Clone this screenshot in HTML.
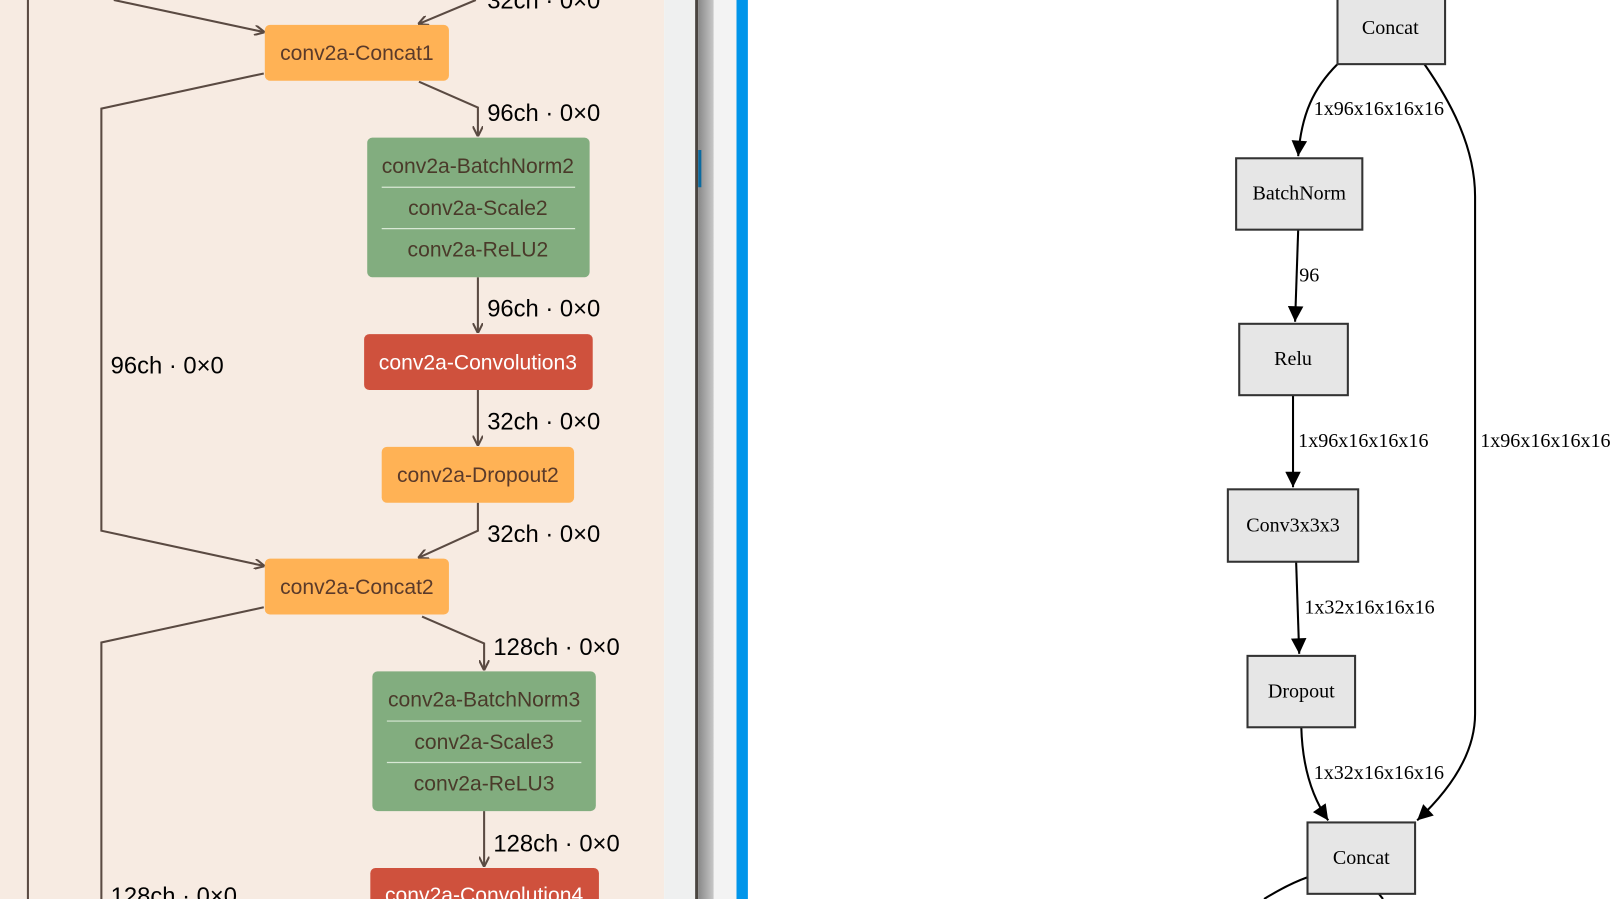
<!DOCTYPE html>
<html><head><meta charset="utf-8"><style>html,body{margin:0;padding:0;background:#fff;overflow:hidden}svg{display:block}</style></head>
<body>
<svg width="1623" height="899" viewBox="0 0 1569 869" preserveAspectRatio="none" xmlns="http://www.w3.org/2000/svg">
<defs>
<marker id="la" viewBox="0 0 10 10" refX="9" refY="5" markerWidth="10" markerHeight="10" markerUnits="userSpaceOnUse" orient="auto"><path d="M0,0 L10,5 L0,10" fill="none" stroke="#5a4a42" stroke-width="2"/></marker>
<marker id="ra" viewBox="0 0 10 10" refX="10" refY="5" markerWidth="20" markerHeight="15" markerUnits="userSpaceOnUse" orient="auto"><path d="M0,0 L10,5 L0,10 z" fill="#000"/></marker>
<linearGradient id="g1" x1="0" x2="1"><stop offset="0" stop-color="#888"/><stop offset="1" stop-color="#c8c8c8"/></linearGradient>
</defs>
<rect x="0" y="0" width="642" height="869" fill="#f7ebe2"/>
<rect x="642" y="0" width="30" height="869" fill="#eff0f0"/>
<rect x="672" y="0" width="3" height="869" fill="#4a4540"/>
<rect x="675" y="0" width="15" height="869" fill="url(#g1)"/>
<rect x="690" y="0" width="22" height="869" fill="#f3f3f3"/>
<rect x="712" y="0" width="11" height="869" fill="#0095ea"/>
<rect x="675" y="145" width="3" height="36" fill="#0a6aa0"/>
<g fill="none" stroke="#5a4a42" stroke-width="2">
<line x1="27" y1="0" x2="27" y2="869"/>
<polyline points="110,0 255,31" marker-end="url(#la)"/>
<polyline points="460,0 405,23" marker-end="url(#la)"/>
<polyline points="255,71 98,105 98,513 255,547" marker-end="url(#la)"/>
<polyline points="405,79 462,104 462,131" marker-end="url(#la)"/>
<polyline points="462,268 462,321" marker-end="url(#la)"/>
<polyline points="462,377 462,430" marker-end="url(#la)"/>
<polyline points="462,486 462,513 405,539" marker-end="url(#la)"/>
<polyline points="255,587 98,621 98,869"/>
<polyline points="408,596 468,622 468,647" marker-end="url(#la)"/>
<polyline points="468,784 468,837" marker-end="url(#la)"/>
</g>
<g font-family="Liberation Sans, sans-serif" font-size="20.4" text-anchor="middle">
<rect x="256" y="24" width="178" height="54" rx="5" fill="#ffb255"/>
<text x="345" y="58" fill="#5a3a2a">conv2a-Concat1</text>
<rect x="355" y="133" width="215" height="135" rx="5" fill="#82ad7f"/>
<line x1="369" y1="181" x2="556" y2="181" stroke="#d8e8d5" stroke-width="1.2"/>
<line x1="369" y1="221" x2="556" y2="221" stroke="#d8e8d5" stroke-width="1.2"/>
<text x="462" y="167" fill="#4a3a2a">conv2a-BatchNorm2</text>
<text x="462" y="208" fill="#4a3a2a">conv2a-Scale2</text>
<text x="462" y="248" fill="#4a3a2a">conv2a-ReLU2</text>
<rect x="352" y="323" width="221" height="54" rx="5" fill="#cf513d"/>
<text x="462" y="357" fill="#fff">conv2a-Convolution3</text>
<rect x="369" y="432" width="186" height="54" rx="5" fill="#ffb255"/>
<text x="462" y="466" fill="#5a3a2a">conv2a-Dropout2</text>
<rect x="256" y="540" width="178" height="54" rx="5" fill="#ffb255"/>
<text x="345" y="574" fill="#5a3a2a">conv2a-Concat2</text>
<rect x="360" y="649" width="216" height="135" rx="5" fill="#82ad7f"/>
<line x1="374" y1="697" x2="562" y2="697" stroke="#d8e8d5" stroke-width="1.2"/>
<line x1="374" y1="737" x2="562" y2="737" stroke="#d8e8d5" stroke-width="1.2"/>
<text x="468" y="683" fill="#4a3a2a">conv2a-BatchNorm3</text>
<text x="468" y="724" fill="#4a3a2a">conv2a-Scale3</text>
<text x="468" y="764" fill="#4a3a2a">conv2a-ReLU3</text>
<rect x="358" y="839" width="221" height="60" rx="5" fill="#cf513d"/>
<text x="468" y="872" fill="#fff">conv2a-Convolution4</text>
</g>
<g font-family="Liberation Sans, sans-serif" font-size="23" fill="#000">
<text x="471" y="8">32ch · 0×0</text>
<text x="471" y="117">96ch · 0×0</text>
<text x="471" y="306">96ch · 0×0</text>
<text x="107" y="361">96ch · 0×0</text>
<text x="471" y="415">32ch · 0×0</text>
<text x="471" y="524">32ch · 0×0</text>
<text x="477" y="633">128ch · 0×0</text>
<text x="477" y="823">128ch · 0×0</text>
<text x="107" y="874">128ch · 0×0</text>
</g>
<g fill="none" stroke="#000" stroke-width="2">
<path d="M1293,62 C1270,85 1258,110 1255,151" marker-end="url(#ra)"/>
<path d="M1377,62 C1400,95 1426,140 1426,190 L1426,690 C1426,730 1400,765 1370,793" marker-end="url(#ra)"/>
<path d="M1255,222 L1252,311" marker-end="url(#ra)"/>
<path d="M1250,382 L1250,471" marker-end="url(#ra)"/>
<path d="M1253,543 L1256,632" marker-end="url(#ra)"/>
<path d="M1258,703 C1259,740 1268,770 1284,793" marker-end="url(#ra)"/>
<path d="M1264,848 C1250,853 1235,861 1222,869"/>
<path d="M1333,864 L1337,869"/>
</g>
<g font-family="Liberation Serif, serif" font-size="19.4" fill="#000" text-anchor="middle">
<rect x="1293" y="-5" width="104" height="67" fill="#e6e6e6" stroke="#333" stroke-width="2"/>
<text x="1344" y="33">Concat</text>
<rect x="1195" y="153" width="122" height="69" fill="#e6e6e6" stroke="#333" stroke-width="2"/>
<text x="1256" y="193">BatchNorm</text>
<rect x="1198" y="313" width="105" height="69" fill="#e6e6e6" stroke="#333" stroke-width="2"/>
<text x="1250" y="353">Relu</text>
<rect x="1187" y="473" width="126" height="70" fill="#e6e6e6" stroke="#333" stroke-width="2"/>
<text x="1250" y="514">Conv3x3x3</text>
<rect x="1206" y="634" width="104" height="69" fill="#e6e6e6" stroke="#333" stroke-width="2"/>
<text x="1258" y="674">Dropout</text>
<rect x="1264" y="795" width="104" height="69" fill="#e6e6e6" stroke="#333" stroke-width="2"/>
<text x="1316" y="835">Concat</text>
</g>
<g font-family="Liberation Serif, serif" font-size="19.4" fill="#000">
<text x="1270" y="111">1x96x16x16x16</text>
<text x="1431" y="432">1x96x16x16x16</text>
<text x="1256" y="272">96</text>
<text x="1255" y="432">1x96x16x16x16</text>
<text x="1261" y="593">1x32x16x16x16</text>
<text x="1270" y="753">1x32x16x16x16</text>
</g>
</svg>
</body></html>
